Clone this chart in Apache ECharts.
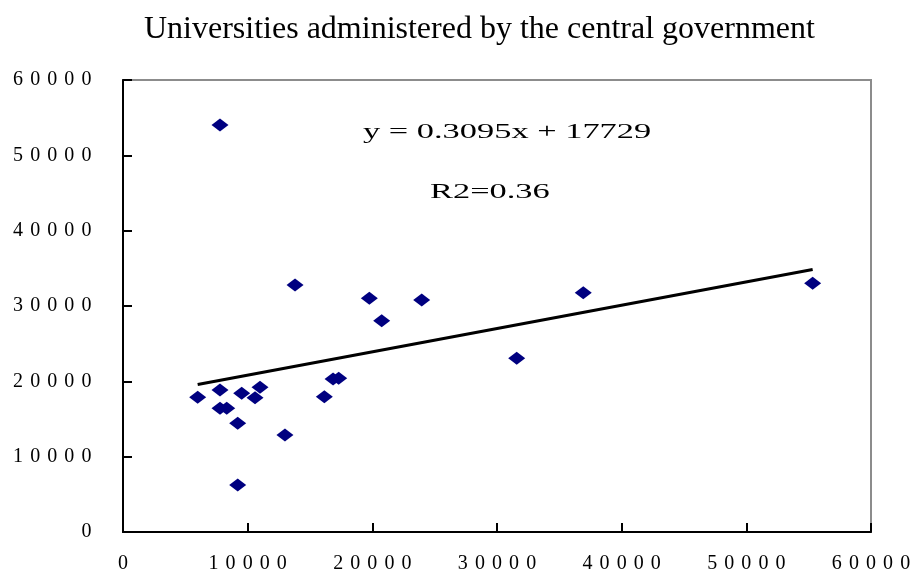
<!DOCTYPE html>
<html>
<head>
<meta charset="utf-8">
<script src="https://cdn.jsdelivr.net/npm/echarts@6/dist/echarts.min.js"></script>
<style>
  html, body { margin: 0; padding: 0; background: #ffffff; }
  #chart { width: 915px; height: 579px; }
</style>
</head>
<body>
<div id="chart"></div>
<script>
// Chart text
const chartTitle = 'Universities administered by the central government';

// Observations (x, y pairs)
const xValues = [5990, 7780, 9520, 10990, 10590, 7780, 8320, 9200, 12990, 9200,
                 16850, 17300, 16150, 7780, 13800, 19760, 20750, 23960, 36920, 31580, 55320];
const yValues = [17880, 18850, 18410, 19210, 17830, 16420, 16420, 14430, 12880, 6240,
                 20300, 20400, 17960, 54030, 32790, 31020, 28050, 30800, 31770, 23060, 33010];

// Linear trend y = slope * x + intercept
const slope = 0.3095;
const intercept = 17729;
const rSquared = '0.36';

// Axis range shared by both axes
const axisMin = 0;
const axisMax = 60000;
const axisStep = 10000;

const serif = '"Liberation Serif", "Times New Roman", serif';

const points = xValues.map((x, i) => [x, yValues[i]]);
const xFirst = Math.min(...xValues);
const xLast = Math.max(...xValues);
const trendData = [xFirst, xLast].map(x => [x, slope * x + intercept]);

// Each digit sits in a wide fixed cell so the labels read as widely set text
const spacedDigits = v => String(v).split('').map(c => '{d|' + c + '}').join('');
const digitRich = { d: { width: 17.1, align: 'center', fontFamily: serif, fontSize: 20, color: '#000' } };

const chart = echarts.init(document.getElementById('chart'), null, { renderer: 'canvas' });

chart.setOption({
  animation: false,
  backgroundColor: '#ffffff',
  title: {
    text: chartTitle,
    left: 139,
    top: 9,
    textStyle: { fontFamily: serif, fontSize: 32, fontWeight: 'normal', color: '#000' }
  },
  grid: {
    left: 123, right: 44, top: 80, bottom: 47,
    show: true, borderColor: '#8c8c8c', borderWidth: 2, backgroundColor: '#ffffff'
  },
  xAxis: {
    type: 'value', min: axisMin, max: axisMax, interval: axisStep,
    axisLine: { show: true, onZero: false, lineStyle: { color: '#000', width: 2 } },
    axisTick: { show: true, inside: true, length: 9, lineStyle: { color: '#000', width: 2 } },
    splitLine: { show: false },
    axisLabel: {
      margin: 22, fontFamily: serif, fontSize: 20, color: '#000',
      formatter: spacedDigits, rich: digitRich
    }
  },
  yAxis: {
    type: 'value', min: axisMin, max: axisMax, interval: axisStep,
    axisLine: { show: true, onZero: false, lineStyle: { color: '#000', width: 2 } },
    axisTick: { show: true, inside: true, length: 9, lineStyle: { color: '#000', width: 2 } },
    splitLine: { show: false },
    axisLabel: {
      margin: 28, fontFamily: serif, fontSize: 20, color: '#000',
      formatter: spacedDigits, rich: digitRich
    }
  },
  graphic: [
    {
      type: 'text', x: 363, y: 133, scaleX: 1.72,
      style: {
        text: 'y = ' + slope + 'x + ' + intercept,
        fontFamily: serif, fontSize: 20, fill: '#000', verticalAlign: 'middle'
      }
    },
    {
      type: 'text', x: 430, y: 193, scaleX: 1.72,
      style: {
        text: 'R2=' + rSquared,
        fontFamily: serif, fontSize: 20, fill: '#000', verticalAlign: 'middle'
      }
    }
  ],
  series: [
    {
      type: 'scatter',
      data: points,
      symbol: 'diamond',
      symbolSize: [17, 13],
      itemStyle: { color: '#000080', opacity: 1 },
      z: 2
    },
    {
      type: 'line',
      data: trendData,
      showSymbol: false,
      symbol: 'none',
      lineStyle: { color: '#000', width: 3 },
      silent: true,
      z: 3
    }
  ]
});
</script>
</body>
</html>
